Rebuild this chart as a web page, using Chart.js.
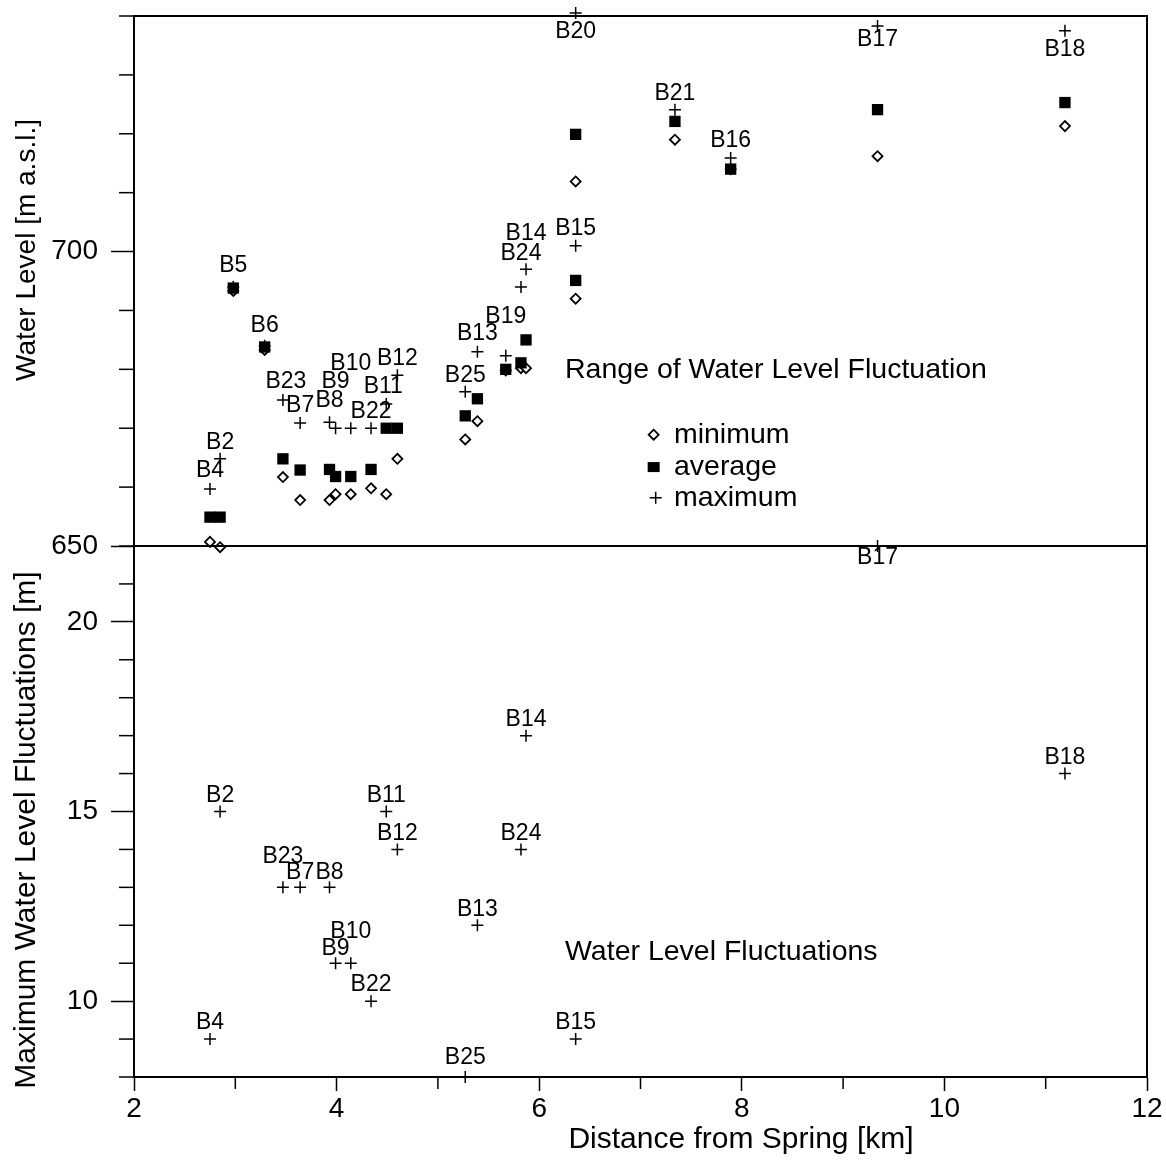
<!DOCTYPE html>
<html>
<head>
<meta charset="utf-8">
<script src="https://cdn.jsdelivr.net/npm/chart.js@4.4.1/dist/chart.umd.min.js"></script>
<style>
  html, body { margin: 0; padding: 0; background: #fff; }
  #wrap { position: relative; width: 1166px; height: 1160px; overflow: hidden; }
  canvas { position: absolute; left: 0; }
  #levelChart { top: 0; }
  #fluctChart { top: 530px; }
</style>
</head>
<body>
<div id="wrap">
  <canvas id="levelChart" width="1166" height="560"></canvas>
  <canvas id="fluctChart" width="1166" height="630"></canvas>
</div>
<script>
/* ── Data ───────────────────────────────────────────────── */
const wells      = ['B4', 'B2', 'B5', 'B6', 'B23', 'B7', 'B8', 'B9', 'B10', 'B22', 'B11', 'B12',
                    'B25', 'B13', 'B19', 'B24', 'B14', 'B15', 'B20', 'B21', 'B16', 'B17', 'B18'];
const distanceKm = [2.75, 2.85, 2.98, 3.29, 3.47, 3.64, 3.93, 3.99, 4.14, 4.34, 4.49, 4.60,
                    5.27, 5.39, 5.67, 5.82, 5.87, 6.36, 6.36, 7.34, 7.89, 9.34, 11.19];
const levelMax   = [659.7, 664.8, 694.0, 684.0, 674.8, 670.9, 671.0, 670.0, 670.0, 670.0, 674.1, 679.0,
                    676.2, 683.0, 682.3, 694.0, 697.0, 701.0, 740.5, 724.1, 715.9, 738.3, 737.5];
const levelAvg   = [654.9, 654.9, 693.8, 683.8, 664.8, 662.9, 663.0, 661.8, 661.8, 663.0, 670.0, 670.0,
                    672.1, 675.0, 680.0, 681.1, 685.0, 695.1, 719.9, 722.1, 714.0, 724.1, 725.3];
const levelMin   = [650.7, 649.8, 693.3, 683.3, 661.7, 657.8, 657.8, 658.8, 658.8, 659.8, 658.8, 664.8,
                    668.1, 671.2, 679.8, 680.2, 680.2, 692.0, 711.9, 719.0, 714.0, 716.2, 721.3];
// maximum fluctuation [m]; null = not plotted in the lower panel
const maxFluct   = [9, 15, null, null, 13, 13, 13, 11, 11, 10, 15, 14,
                    8, 12, null, 14, 17, 9, null, null, null, 22, 16];

const xTickLabels     = [2, 4, 6, 8, 10, 12];
const xMinorTicks     = [3, 5, 7, 9, 11];
const levelTickLabels = [650, 700];
const levelMinorTicks = [660, 670, 680, 690, 710, 720, 730, 740];
const fluctTickLabels = [10, 15, 20];
const fluctMinorTicks = [8, 9, 11, 12, 13, 14, 16, 17, 18, 19, 21, 22];

/* ── Label placement (px from the marker) ───────────────── */
const levelLabelDy = [-18, -16, -21, -20, -18, -17, -22, -47, -65, -17, -17, -17,
                      -16, -18, -39, -33, -36, -17, 19, -16, -17, 14, 19];
const levelLabelDx = [0, 0, 0, 0, 3, 0, 0, 0, 0, 0, -3, 0, 0, 0, 0, 0, 0, 0, 0, 0, 0, 0, 0];
const fluctLabelDy = [-16, -16, 0, 0, -31, -15, -15, -15, -32, -16, -16, -16,
                      -19, -16, 0, -16, -16, -16, 0, 0, 0, 12, -16];

const FONT = "'Liberation Sans', Arial, Helvetica, sans-serif";
Chart.defaults.font.family = FONT;
Chart.defaults.color = '#000';

/* ── Plugins ────────────────────────────────────────────── */
const frame = {
  id: 'frame',
  afterDatasetsDraw(chart) {
    const { ctx, chartArea: a } = chart;
    ctx.save();
    ctx.strokeStyle = '#000';
    ctx.lineWidth = 2;
    ctx.strokeRect(a.left, a.top, a.right - a.left, a.bottom - a.top);
    ctx.restore();
  },
};

const minorTicks = {
  id: 'minorTicks',
  afterDraw(chart, args, opts) {
    const { ctx, chartArea: a } = chart;
    ctx.save();
    ctx.strokeStyle = '#000';
    ctx.lineWidth = 1.5;
    (opts.items || []).forEach((it) => {
      const scale = chart.scales[it.axis];
      it.values.forEach((v) => {
        const p = scale.getPixelForValue(v);
        ctx.beginPath();
        if (scale.isHorizontal()) {
          ctx.moveTo(p, a.bottom);
          ctx.lineTo(p, a.bottom + it.length);
        } else {
          ctx.moveTo(a.left, p);
          ctx.lineTo(a.left - it.length, p);
        }
        ctx.stroke();
      });
    });
    ctx.restore();
  },
};

const wellLabels = {
  id: 'wellLabels',
  afterDatasetsDraw(chart, args, opts) {
    const ds = chart.data.datasets[opts.datasetIndex];
    const meta = chart.getDatasetMeta(opts.datasetIndex);
    const ctx = chart.ctx;
    ctx.save();
    ctx.font = `23px ${FONT}`;
    ctx.fillStyle = '#000';
    ctx.textAlign = 'center';
    ctx.textBaseline = 'middle';
    meta.data.forEach((pt, i) => {
      const w = ds.data[i].well;
      ctx.fillText(wells[w], pt.x + (opts.dx ? opts.dx[w] : 0), pt.y + opts.dy[w]);
    });
    ctx.restore();
  },
};

const notes = {
  id: 'notes',
  afterDraw(chart, args, opts) {
    const { ctx, scales } = chart;
    ctx.save();
    ctx.fillStyle = '#000';
    ctx.strokeStyle = '#000';
    ctx.textBaseline = 'middle';
    ctx.font = `28.5px ${FONT}`;
    (opts.texts || []).forEach((t) => {
      ctx.textAlign = 'left';
      ctx.fillText(t.text, scales.x.getPixelForValue(t.x), scales.y.getPixelForValue(t.y));
    });
    (opts.legend || []).forEach((r) => {
      const mx = scales.x.getPixelForValue(r.mx);
      const tx = scales.x.getPixelForValue(r.tx);
      const py = scales.y.getPixelForValue(r.y);
      ctx.beginPath();
      if (r.style === 'diamond') {
        ctx.lineWidth = 1.8;
        ctx.moveTo(mx - 5, py); ctx.lineTo(mx, py - 5); ctx.lineTo(mx + 5, py); ctx.lineTo(mx, py + 5);
        ctx.closePath();
        ctx.stroke();
      } else if (r.style === 'square') {
        ctx.fillRect(mx - 6, py - 5, 12, 10);
      } else {
        ctx.lineWidth = 1.5;
        ctx.moveTo(mx - 6, py); ctx.lineTo(mx + 6, py);
        ctx.moveTo(mx, py - 6); ctx.lineTo(mx, py + 6);
        ctx.stroke();
      }
      ctx.textAlign = 'left';
      ctx.fillText(r.text, tx, py);
    });
    (opts.titles || []).forEach((t) => {
      ctx.save();
      ctx.font = `${t.size}px ${FONT}`;
      ctx.translate(t.px, t.py);
      ctx.rotate(t.rotate || 0);
      ctx.textAlign = 'center';
      ctx.fillText(t.text, 0, 0);
      ctx.restore();
    });
    ctx.restore();
  },
};

/* ── Shared axis helpers ────────────────────────────────── */
const yAxis = (min, max, labels) => ({
  type: 'linear',
  min, max,
  afterBuildTicks: (s) => { s.ticks = labels.map((v) => ({ value: v })); },
  afterFit: (s) => { s.width = 134; s.paddingTop = 0; s.paddingBottom = 0; },
  grid: { drawOnChartArea: false, drawTicks: true, tickLength: 23, tickWidth: 1.5, tickColor: '#000' },
  border: { display: true, color: '#000', width: 2 },
  ticks: { padding: 13, font: { size: 28 }, color: '#000' },
});

const pts = (vals) => vals
  .map((v, i) => ({ x: distanceKm[i], y: v, well: i }))
  .filter((p) => p.y !== null);

/* ── Upper panel: water levels ──────────────────────────── */
new Chart(document.getElementById('levelChart'), {
  type: 'scatter',
  data: {
    datasets: [
      { label: 'maximum', data: pts(levelMax), pointStyle: 'cross', pointRadius: 6,
        borderColor: '#000', borderWidth: 1.5, clip: false },
      { label: 'average', data: pts(levelAvg), pointStyle: 'rect', pointRadius: 8,
        backgroundColor: '#000', borderColor: '#000', borderWidth: 0, clip: false },
      { label: 'minimum', data: pts(levelMin), pointStyle: 'rectRot', pointRadius: 5,
        backgroundColor: '#fff', borderColor: '#000', borderWidth: 1.8, clip: false },
    ],
  },
  options: {
    responsive: false,
    animation: false,
    events: [],
    layout: { padding: { left: 0, right: 19, top: 16, bottom: 14 } },
    plugins: {
      legend: { display: false },
      tooltip: { enabled: false },
      wellLabels: { datasetIndex: 0, dy: levelLabelDy, dx: levelLabelDx },
      minorTicks: { items: [{ axis: 'y', values: levelMinorTicks, length: 15 }] },
      notes: {
        texts: [{ text: 'Range of Water Level Fluctuation', x: 6.255, y: 679.9 }],
        legend: [
          { style: 'diamond', text: 'minimum', mx: 7.13, tx: 7.33, y: 668.9 },
          { style: 'square',  text: 'average', mx: 7.13, tx: 7.33, y: 663.4 },
          { style: 'plus',    text: 'maximum', mx: 7.15, tx: 7.33, y: 658.2 },
        ],
        titles: [{ text: 'Water Level [m a.s.l.]', px: 27, py: 250, size: 28, rotate: -Math.PI / 2 }],
      },
    },
    scales: {
      x: { type: 'linear', min: 2, max: 12, display: false },
      y: yAxis(650, 740, levelTickLabels),
    },
  },
  plugins: [frame, minorTicks, wellLabels, notes],
});

/* ── Lower panel: maximum fluctuation ───────────────────── */
new Chart(document.getElementById('fluctChart'), {
  type: 'scatter',
  data: {
    datasets: [
      { label: 'fluctuation', data: pts(maxFluct), pointStyle: 'cross', pointRadius: 6,
        borderColor: '#000', borderWidth: 1.5, clip: false },
    ],
  },
  options: {
    responsive: false,
    animation: false,
    events: [],
    layout: { padding: { left: 0, right: 19, top: 16, bottom: 0 } },
    plugins: {
      legend: { display: false },
      tooltip: { enabled: false },
      wellLabels: { datasetIndex: 0, dy: fluctLabelDy },
      minorTicks: {
        items: [
          { axis: 'y', values: fluctMinorTicks, length: 15 },
          { axis: 'x', values: xMinorTicks, length: 12 },
        ],
      },
      notes: {
        texts: [{ text: 'Water Level Fluctuations', x: 6.255, y: 11.3 }],
        titles: [
          { text: 'Maximum Water Level Fluctuations [m]', px: 27, py: 300, size: 30, rotate: -Math.PI / 2 },
          { text: 'Distance from Spring [km]', px: 741, py: 610, size: 30 },
        ],
      },
    },
    scales: {
      x: {
        type: 'linear', min: 2, max: 12,
        afterBuildTicks: (s) => { s.ticks = xTickLabels.map((v) => ({ value: v })); },
        afterFit: (s) => { s.height = 83; s.paddingLeft = 0; s.paddingRight = 0; },
        grid: { drawOnChartArea: false, drawTicks: true, tickLength: 14, tickWidth: 1.5, tickColor: '#000' },
        border: { display: true, color: '#000', width: 2 },
        ticks: { padding: 1, font: { size: 28 }, color: '#000', maxRotation: 0, autoSkip: false },
      },
      y: yAxis(8, 22, fluctTickLabels),
    },
  },
  plugins: [frame, minorTicks, wellLabels, notes],
});
</script>
</body>
</html>
